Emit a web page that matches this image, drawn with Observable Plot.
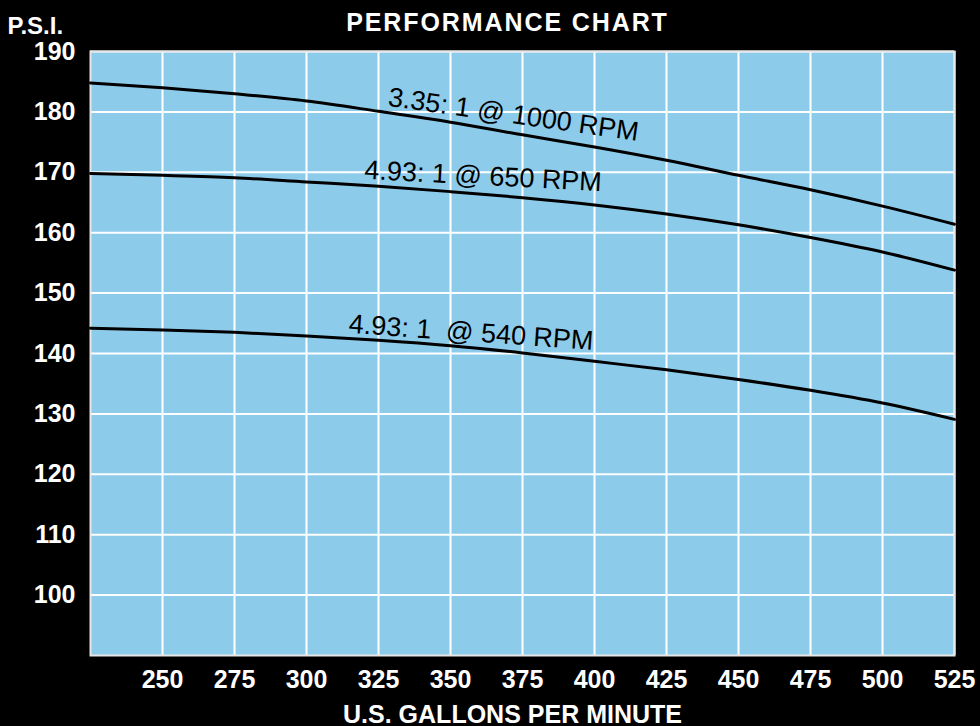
<!DOCTYPE html>
<html>
<head>
<meta charset="utf-8">
<script src="https://cdn.jsdelivr.net/npm/d3@7"></script>
<script src="https://cdn.jsdelivr.net/npm/@observablehq/plot@0.6"></script>
<style>
  html, body { margin: 0; padding: 0; background: #000; }
  #chart svg { display: block; }
  #chart [aria-label="x-axis tick label"] text,
  #chart [aria-label="y-axis tick label"] text { font-weight: bold; }
</style>
</head>
<body>
<div id="chart"></div>
<script>
// Data
const gpm = [225, 250, 275, 300, 325, 350, 375, 400, 425, 450, 475, 500, 525];
const psi1000 = [184.8, 184.0, 183.0, 181.8, 180.1, 178.3, 176.2, 174.2, 172.0, 169.5, 167.1, 164.4, 161.4];
const psi650 = [169.8, 169.5, 169.1, 168.4, 167.7, 166.8, 165.8, 164.6, 163.1, 161.3, 159.2, 156.8, 153.8];
const psi540 = [144.2, 143.9, 143.5, 142.9, 142.2, 141.3, 140.1, 138.7, 137.3, 135.7, 133.9, 131.8, 129.1];
const seriesNames = ["3.35: 1 @ 1000 RPM", "4.93: 1 @ 650 RPM", "4.93: 1  @ 540 RPM"];
const xTicks = [250, 275, 300, 325, 350, 375, 400, 425, 450, 475, 500, 525];
const yTicks = [100, 110, 120, 130, 140, 150, 160, 170, 180, 190];
// label anchor points (data coordinates) and slope angles
const labelGpm = [328, 320, 314.5];
const labelPsi = [180.7, 168.6, 143.1];
const labelAngle = [8, 3, 4];

const seriesValues = [psi1000, psi650, psi540];
const rows = seriesValues.flatMap((vals, i) => vals.map((v, j) => ({series: seriesNames[i], gpm: gpm[j], psi: v})));
const labels = seriesNames.map((s, i) => ({text: s, gpm: labelGpm[i], psi: labelPsi[i], angle: labelAngle[i]}));

const font = "'Liberation Sans', Arial, Helvetica, sans-serif";

const chart = Plot.plot({
  width: 980,
  height: 726,
  marginLeft: 90,
  marginRight: 26,
  marginTop: 51,
  marginBottom: 71,
  style: {background: "#000", color: "#fff", fontFamily: font},
  x: {domain: [225, 525]},
  y: {domain: [90, 190]},
  marks: [
    Plot.frame({fill: "#8dcbea"}),
    Plot.gridX(xTicks, {stroke: "#fff", strokeOpacity: 1, strokeWidth: 2}),
    Plot.gridY(yTicks, {stroke: "#fff", strokeOpacity: 1, strokeWidth: 2}),
    Plot.frame({stroke: "#e6e6e6", strokeWidth: 2}),
    Plot.axisX({ticks: xTicks, tickSize: 0, tickPadding: 15, fontSize: 25, fontWeight: "bold", label: null, fill: "#fff"}),
    Plot.axisY({ticks: yTicks, tickSize: 0, tickPadding: 15, fontSize: 25, fontWeight: "bold", label: null, fill: "#fff"}),
    Plot.line(rows, {x: "gpm", y: "psi", z: "series", stroke: "#000", strokeWidth: 3, curve: "monotone-x"}),
    Plot.text(labels, {x: "gpm", y: "psi", text: "text", rotate: "angle", textAnchor: "start", lineAnchor: "bottom", fontSize: 27, fill: "#000", dy: -2}),
    Plot.text(["PERFORMANCE CHART"], {frameAnchor: "top", dx: -15, dy: -21, lineAnchor: "bottom", fontSize: 25, fontWeight: "bold", fill: "#fff"}),
    Plot.text(["P.S.I."], {frameAnchor: "top-left", dx: -83, dy: -18, textAnchor: "start", lineAnchor: "bottom", fontSize: 24, fontWeight: "bold", fill: "#fff"}),
    Plot.text(["U.S. GALLONS PER MINUTE"], {frameAnchor: "bottom", dx: -10, dy: 67, lineAnchor: "bottom", fontSize: 25, fontWeight: "bold", fill: "#fff"})
  ]
});
d3.select(chart).selectAll("text")
  .filter(function () { return this.textContent === "PERFORMANCE CHART"; })
  .attr("letter-spacing", "1.9px");
document.getElementById("chart").append(chart);
</script>
</body>
</html>
